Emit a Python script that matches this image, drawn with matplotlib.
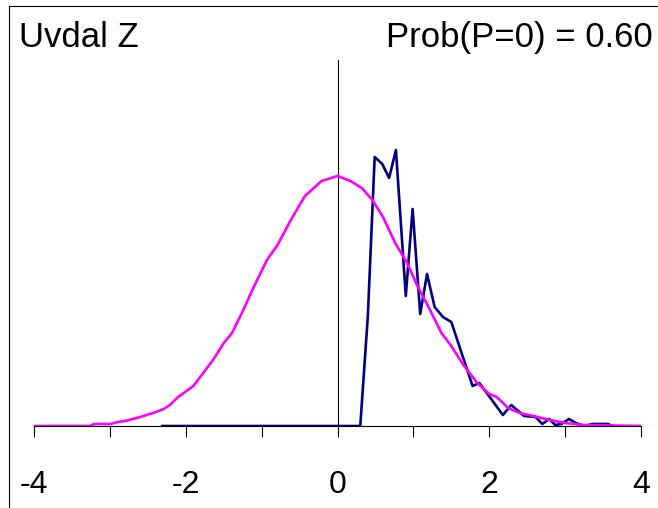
import matplotlib
matplotlib.use('Agg')
import matplotlib.pyplot as plt
from matplotlib.lines import Line2D

plt.rcParams['font.family'] = ['Liberation Sans', 'DejaVu Sans']

# Observed distribution (navy)
blue_x = [-2.31, 0.30, 0.40, 0.49, 0.59, 0.68, 0.77, 0.90, 0.99, 1.09, 1.18, 1.28,
          1.39, 1.50, 1.78, 1.87, 2.18, 2.29, 2.46, 2.61, 2.70, 2.79, 2.87, 2.95,
          3.05, 3.14, 3.25, 3.36, 3.56, 3.63]
blue_y = [0, 0, 110, 269, 262, 248, 276, 130, 217, 112, 152, 119,
          109, 104, 40, 43, 11, 21, 10, 9, 2, 7, 1, 2,
          7, 3, 0, 2, 2, 0]

# Fitted distribution (magenta)
pink_x = [-4.0, -3.26, -3.21, -2.99, -2.90, -2.80, -2.60, -2.43, -2.29, -2.21, -2.10,
          -1.90, -1.79, -1.64, -1.50, -1.39, -1.26, -1.11, -0.93, -0.79, -0.63, -0.43,
          -0.21, 0.0, 0.17, 0.32, 0.46, 0.60, 0.76, 0.91, 1.06, 1.22, 1.37, 1.49,
          1.66, 1.83, 1.90, 2.0, 2.10, 2.25, 2.40, 2.58, 2.80, 3.0, 3.24, 4.0]
pink_y = [0, 0, 2, 2, 4, 5, 9, 13, 17, 21, 29,
          40, 51, 66, 83, 93, 113, 138, 166, 181, 204, 230,
          245, 250, 245, 238, 226, 209, 183, 164, 139, 116, 93, 81,
          61, 44, 39, 32, 29, 18, 13, 10, 6, 3, 1, 0]

x_ticks = [-4, -3, -2, -1, 0, 1, 2, 3, 4]
x_labels = ['-4', '', '-2', '', '0', '', '2', '', '4']

fig = plt.figure(figsize=(6.58, 5.08), dpi=100)
ax = fig.add_axes([34 / 658, 82 / 508, 607 / 658, 366 / 508])

ax.plot(blue_x, blue_y, color='#000080', lw=1.9, zorder=3)
ax.plot(pink_x, pink_y, color='#FF00FF', lw=1.9, zorder=4)

ax.set_xlim(-4, 4)
ax.set_ylim(0, 366)
ax.spines['left'].set_position(('data', 0))
ax.spines['left'].set_linewidth(0.8)
ax.spines['bottom'].set_linewidth(0.8)
ax.spines['right'].set_visible(False)
ax.spines['top'].set_visible(False)
ax.set_yticks([])
ax.set_xticks(x_ticks)
ax.set_xticklabels(x_labels)
ax.tick_params(axis='x', direction='out', length=8, width=0.8, pad=24, labelsize=23)

# Title texts
fig.text(19 / 658, 1 - 47 / 508, 'Uvdal Z', fontsize=25, ha='left', va='baseline')
fig.text(653 / 658, 1 - 47 / 508, 'Prob(P=0) = 0.60', fontsize=25, ha='right', va='baseline')

# Partial frame (left and top edges)
fig.add_artist(Line2D([9 / 658, 9 / 658], [0, 1 - 6 / 508], transform=fig.transFigure,
                      color='black', lw=0.8))
fig.add_artist(Line2D([9 / 658, 1], [1 - 6 / 508, 1 - 6 / 508], transform=fig.transFigure,
                      color='black', lw=0.8))

fig.savefig('out.png', dpi=100)
